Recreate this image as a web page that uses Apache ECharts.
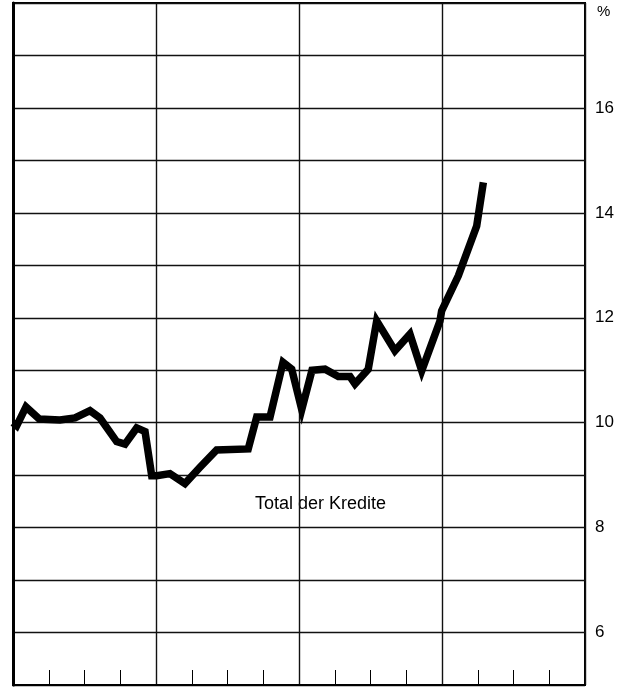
<!DOCTYPE html>
<html>
<head>
<meta charset="utf-8">
<script src="https://cdn.jsdelivr.net/npm/echarts@6/dist/echarts.min.js"></script>
<style>
html,body{margin:0;padding:0;background:#fff;}
#chart{width:633px;height:689px;}
</style>
</head>
<body>
<div id="chart"></div>
<script>
// Months since start of the first year (x), percent (y)
const months = [0, 0.31, 1.09, 2.21, 3.94, 5.20, 6.46, 7.30, 8.70, 9.40, 10.38, 11.08, 11.64, 12.06,
  13.17, 14.43, 15.69, 17.09, 19.74, 20.45, 21.57, 22.66, 23.39, 24.23, 25.09, 26.18, 27.30, 28.28,
  28.70, 29.81, 30.52, 32.05, 33.31, 34.30, 35.83, 35.97, 37.37, 38.91, 39.47];
const rates = [10.00, 9.94, 10.30, 10.07, 10.05, 10.09, 10.23, 10.09, 9.64, 9.59, 9.90, 9.83, 8.99, 8.99,
  9.03, 8.84, 9.15, 9.48, 9.50, 10.11, 10.11, 11.15, 11.02, 10.25, 11.00, 11.02, 10.88, 10.88,
  10.74, 11.02, 11.94, 11.37, 11.69, 10.99, 11.94, 12.13, 12.80, 13.75, 14.58];
const yLabels = [6, 8, 10, 12, 14, 16];
const seriesName = 'Total der Kredite';
const unit = '%';

const chart = echarts.init(document.getElementById('chart'));
const data = months.map((m, i) => [m, rates[i]]);
const font = '"Liberation Sans", Arial, sans-serif';

chart.setOption({
  animation: false,
  backgroundColor: '#fff',
  grid: {left: 13, right: 48, top: 3, bottom: 4, show: true, borderColor: '#000', borderWidth: 2},
  xAxis: {
    type: 'value', min: 0, max: 48, interval: 12,
    axisLine: {show: true, lineStyle: {color: '#000', width: 2}},
    axisLabel: {show: false},
    axisTick: {show: false, inside: true},
    minorTick: {show: true, splitNumber: 4, length: 15, lineStyle: {color: '#000', width: 1}},
    splitLine: {show: true, lineStyle: {color: '#111', width: 1.4}}
  },
  yAxis: {
    type: 'value', position: 'right', min: 5, max: 18, interval: 1,
    axisLine: {show: true, lineStyle: {color: '#000', width: 3}},
    axisTick: {show: false},
    axisLabel: {
      margin: 10, color: '#000', fontSize: 17, fontFamily: font, padding: [6, 0, 0, 0],
      formatter: v => yLabels.indexOf(v) >= 0 ? String(v) : ''
    },
    splitLine: {show: true, lineStyle: {color: '#111', width: 1.4}}
  },
  series: [{
    name: seriesName,
    type: 'line',
    data: data,
    symbol: 'none',
    lineStyle: {color: '#000', width: 7.5, join: 'miter', cap: 'butt'}
  }],
  graphic: [
    {type: 'text', left: 597, top: 4, style: {text: unit, fill: '#000', font: '15px ' + font}},
    {type: 'text', left: 255, top: 495, style: {text: seriesName, fill: '#000', font: '18px ' + font}}
  ]
});
</script>
</body>
</html>
